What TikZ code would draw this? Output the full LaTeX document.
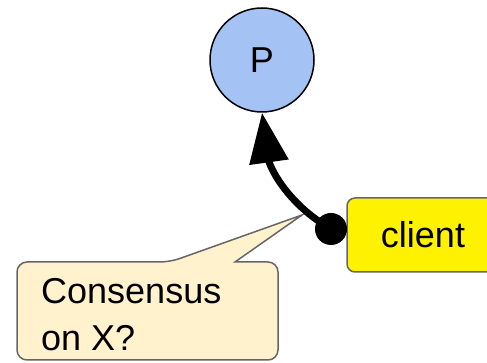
\documentclass[tikz,border=0pt]{standalone}
\usepackage{fontspec}
\setmainfont{Liberation Sans}
\usetikzlibrary{arrows.meta}
\definecolor{procblue}{HTML}{A4C2F4}
\definecolor{noteyellow}{HTML}{FFF2CC}
\definecolor{edgegray}{HTML}{666666}
\tikzset{
  proc/.style={circle, draw=black, line width=1.5pt, fill=procblue,
    minimum size=104pt, inner sep=0pt, font=\fontsize{36}{40}\selectfont},
  clientbox/.style={rectangle, rounded corners=8pt, draw=edgegray, line width=1.5pt,
    fill=yellow, minimum width=152pt, minimum height=74pt, inner sep=0pt,
    font=\fontsize{36}{40}\selectfont},
  enddot/.style={circle, fill=black, minimum size=32pt, inner sep=0pt},
  notetext/.style={align=left, anchor=north west, inner sep=0pt,
    font=\fontsize{36}{47}\selectfont},
  callout/.style={draw=edgegray, line width=1.5pt, fill=noteyellow},
  request/.style={line width=7pt, -{Triangle[length=50pt,width=38pt]}}
}
\begin{document}
\begin{tikzpicture}[x=1pt,y=1pt]
  \useasboundingbox (0,0) rectangle (487,363);

  % speech bubble behind the text
  \draw[callout] (250,101) [rounded corners=10pt] -- (278,101) -- (278,3)
    -- (17,3) -- (17,101) -- (170,101) [sharp corners] -- (302,148) -- (235,101) -- cycle;
  \node[notetext] (q) at (41,85) {Consensus\\on X?};

  % process and client
  \node[proc] (P) at (262,303) {P};
  \node[clientbox] (c) at (423,128) {client};

  % the client's request to the process, starting at the dot
  \coordinate (dc) at (331,134);
  \draw[request] (dc) to[out=150, in=-82] (P.south);
  \node[enddot] (dot) at (dc) {};
\end{tikzpicture}
\end{document}
